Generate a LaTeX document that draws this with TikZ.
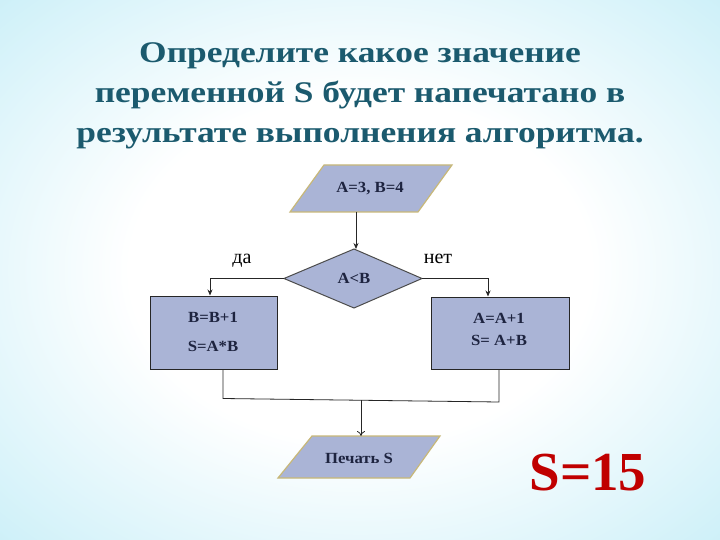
\documentclass[tikz,border=0pt]{standalone}
\usepackage{fontspec}
\setmainfont{Liberation Serif}
\usetikzlibrary{arrows.meta}
\definecolor{bgcyan}{HTML}{BDEBF6}
\definecolor{titlecol}{HTML}{1B5A6E}
\definecolor{shapefill}{HTML}{AAB4D6}
\definecolor{tanline}{HTML}{C8B878}
\definecolor{boxtext}{HTML}{1E2440}
\definecolor{ansred}{HTML}{C00000}
\pgfdeclareradialshading{bgshade}{\pgfpoint{0bp}{0bp}}{color(0bp)=(white); color(16bp)=(white); color(42bp)=(bgcyan); color(60bp)=(bgcyan)}
\tikzset{
  titletext/.style={font=\bfseries\fontsize{30}{40}\selectfont, text=titlecol, align=center, xscale=1.18},
  boxlabel/.style={font=\bfseries\fontsize{15.5}{17}\selectfont, text=boxtext, align=center, xscale=1.08},
  branchlabel/.style={font=\fontsize{20}{22}\selectfont, text=black},
  conn/.style={draw=black!85, line width=0.8pt},
  arr/.style={conn, -{Stealth[length=6pt,width=5pt]}},
  openarr/.style={conn, -{To[length=5pt,width=8pt]}},
  io/.style={fill=shapefill, draw=tanline, line width=1.2pt},
  proc/.style={fill=shapefill, draw=black!85, line width=1pt},
  decis/.style={fill=shapefill, draw=black!70, line width=1pt}
}
\begin{document}
\begin{tikzpicture}[x=1pt,y=-1pt]
\useasboundingbox (0,0) rectangle (720,540);
\shade[shading=bgshade] (0,0) rectangle (720,540);

% title
\node[titletext] (title) at (360,96) {Определите какое значение\\переменной S будет напечатано в\\результате выполнения алгоритма.};

% input parallelogram
\path[io] (324,165) -- (452,165) -- (418,212) -- (290,212) -- cycle;
\node[boxlabel] (inp) at (370,189) {A=3, B=4};
\coordinate (inpB) at (356,212);

% decision diamond
\path[decis] (354,249) -- (422,278.5) -- (354,308) -- (284,278.5) -- cycle;
\node[boxlabel] (dec) at (354,278) {A<B};
\coordinate (decT) at (356,249);
\coordinate (decL) at (284,278.5);
\coordinate (decR) at (422,278.5);

% left process box
\node[proc, minimum width=127pt, minimum height=73pt, inner sep=0pt] (left) at (213.5,332.5) {};
\node[boxlabel] (l1) at (213,317) {B=B+1};
\node[boxlabel] (l2) at (213,346) {S=A*B};

% right process box
\node[proc, minimum width=138pt, minimum height=72pt, inner sep=0pt] (right) at (500,333) {};
\node[boxlabel] (r1) at (499,318) {A=A+1};
\node[boxlabel] (r2) at (499,340) {S= A+B};

% output parallelogram
\path[io] (312,436) -- (440,436) -- (410,478) -- (278,478) -- cycle;
\node[boxlabel] (out) at (359,458) {Печать S};
\coordinate (outT) at (361,436);

% branch labels
\node[branchlabel, anchor=base] (yes) at (242,263) {да};
\node[branchlabel, anchor=base] (no) at (438,263) {нет};

% connectors
\draw[arr] (inpB) -- (decT);
\draw[arr] (decL) -| (left.north -| 210,0);
\draw[arr] (decR) -| (right.north -| 488,0);
\coordinate (lb) at (223,369);
\coordinate (rb) at (499,369);
\coordinate (lj) at (223,398.5);
\coordinate (rj) at (499,402);
\coordinate (mj) at (361,400.3);
\draw[conn] (lb) -- (lj) -- (rj) -- (rb);
\draw[openarr] (mj) -- (outT);

% answer
\node[font=\bfseries\fontsize{55}{60}\selectfont, text=ansred, anchor=base] (ans) at (588,490) {S=15};
\end{tikzpicture}
\end{document}
